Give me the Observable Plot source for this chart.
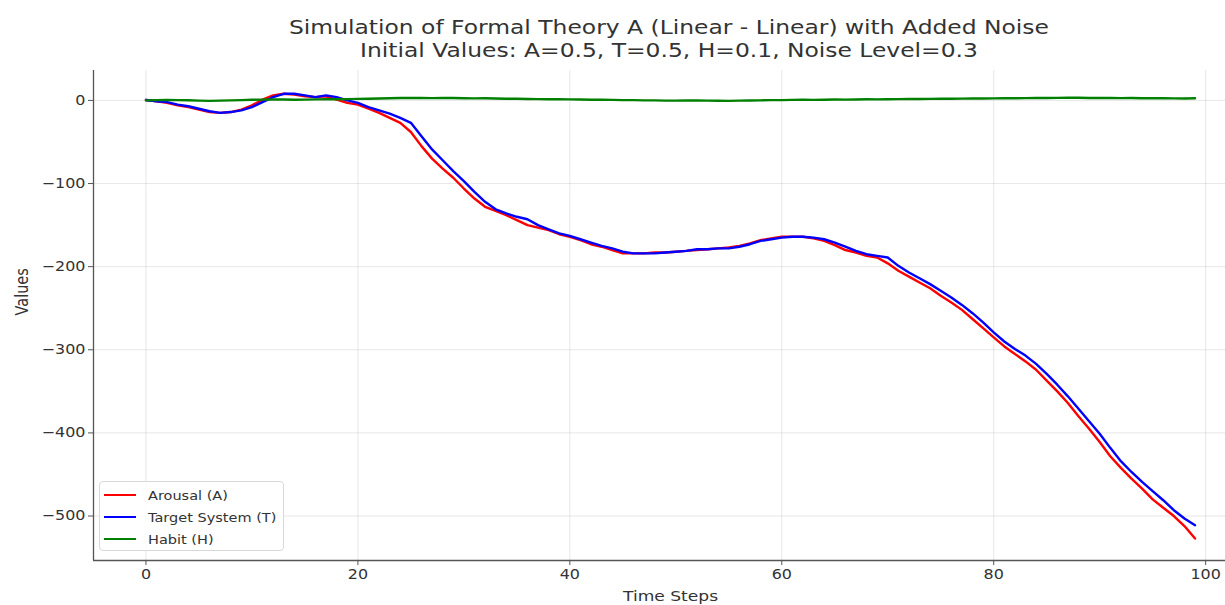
<!DOCTYPE html>
<html>
<head>
<meta charset="utf-8">
<script src="https://cdn.jsdelivr.net/npm/d3@7"></script>
<script src="https://cdn.jsdelivr.net/npm/@observablehq/plot@0.6"></script>
<style>
  html, body { margin: 0; padding: 0; background: #fff; overflow: hidden; }
  #wrap { position: relative; width: 1225px; height: 605px; font-family: "DejaVu Sans", sans-serif; }
  #title { height: 65px; color: #333; font-size: 19.5px; line-height: 22px; }
  #title div { position: absolute; left: 0; width: 1338px; text-align: center; transform: scaleX(1.2); transform-origin: 669px 0; }
  #chart svg { display: block; overflow: hidden; }
  #legend { position: absolute; left: 99px; top: 481px; width: 185px; height: 70px; border: 1px solid #d8d8d8; border-radius: 4px; background: rgba(255,255,255,0.85); box-sizing: border-box; }
  .row { position: absolute; left: 0; height: 20px; display: flex; align-items: center; }
  .sw { position: absolute; left: 4px; width: 32px; height: 0; border-top: 2.6px solid; }
  .lab { position: absolute; left: 48px; font-size: 12.5px; color: #333; white-space: nowrap; transform: scaleX(1.16); transform-origin: 0 0; }
</style>
</head>
<body>
<div id="wrap">
  <div id="title">
    <div style="top:17px">Simulation of Formal Theory A (Linear - Linear) with Added Noise</div>
    <div style="top:40px">Initial Values: A=0.5, T=0.5, H=0.1, Noise Level=0.3</div>
  </div>
  <div id="chart"></div>
  <div id="legend"></div>
</div>
<script>
// ---- data ----
const seriesNames = ["Arousal (A)", "Target System (T)", "Habit (H)"];
const seriesColors = ["#ff0000", "#0000ff", "#008000"];

const arousal = [
  0.5, -1, -3, -6, -8, -11, -14, -15, -14, -11,
  -6, 1, 6, 8, 7, 5, 4, 5, 1, -3,
  -5, -10, -15, -21, -27, -38, -55, -70, -82, -93,
  -106, -118, -128, -133, -138, -144, -150, -153, -156, -161,
  -164, -168, -173, -176, -180, -184, -184, -184, -183, -183,
  -182, -181, -180, -179, -178, -177, -175, -172, -168, -166,
  -164, -164, -164, -166, -169, -174, -180, -183, -187, -189,
  -196, -205, -212, -219, -226, -235, -243, -252, -263, -274,
  -285, -296, -305, -314, -324, -337, -350, -364, -380, -395,
  -411, -428, -442, -455, -467, -480, -490, -500, -512, -527
];
const target = [
  0.5, -1, -2, -5, -7, -10, -13, -15, -14, -12,
  -8, -2, 4, 8, 8, 6, 4, 6, 4, 0,
  -3, -8, -12, -16, -21, -27, -43, -59, -72, -85,
  -97, -110, -122, -131, -136, -140, -143, -150, -155, -160,
  -163, -167, -171, -175, -178, -182, -184, -184, -184, -183,
  -182, -181, -179, -179, -178, -178, -176, -173, -169, -167,
  -165, -164, -164, -165, -167, -171, -176, -181, -185, -187,
  -189, -199, -207, -214, -221, -229, -237, -246, -256, -267,
  -279, -290, -299, -307, -317, -329, -342, -356, -371, -386,
  -401, -418, -434, -447, -459, -470, -481, -493, -503, -511
];
const habit = [
  0.1, 0.3, 0.5, 0.4, 0.2, -0.2, -0.5, -0.3, 0.1, 0.4,
  0.8, 1.0, 1.2, 1.1, 0.9, 1.0, 1.3, 1.5, 1.4, 1.6,
  1.9, 2.1, 2.4, 2.6, 2.9, 3.1, 3.0, 2.8, 2.9, 3.0,
  2.7, 2.5, 2.6, 2.3, 2.1, 2.0, 1.8, 1.6, 1.4, 1.5,
  1.3, 1.1, 0.9, 0.8, 0.6, 0.4, 0.3, 0.1, 0.0, -0.2,
  -0.3, -0.1, 0.0, -0.2, -0.4, -0.5, -0.3, -0.1, 0.1, 0.3,
  0.4, 0.6, 0.8, 0.7, 0.9, 1.1, 1.0, 1.2, 1.4, 1.3,
  1.5, 1.6, 1.8, 1.7, 1.9, 2.1, 2.0, 2.2, 2.4, 2.3,
  2.5, 2.7, 2.6, 2.8, 3.0, 2.9, 3.1, 3.3, 3.2, 3.0,
  3.1, 2.9, 2.8, 3.0, 2.7, 2.8, 2.6, 2.5, 2.4, 2.6
];
const xTicks = [0, 20, 40, 60, 80, 100];
const yTicks = [0, -100, -200, -300, -400, -500];

// ---- build table ----
const allSeries = [arousal, target, habit];
const rows = [];
allSeries.forEach((vals, s) => vals.forEach((v, t) => rows.push({t, v, series: seriesNames[s]})));

const xDom = [-4.95, 103.95];
const yDom = [-553.5, 36];
const fmt = d => d < 0 ? "\u2212" + Math.abs(d) : String(d);

const chart = Plot.plot({
  width: 1225,
  height: 540,
  marginTop: 5,
  marginBottom: 45,
  marginLeft: 93,
  marginRight: -22,
  style: {fontFamily: "DejaVu Sans, sans-serif", fontSize: "13.5px", color: "#333", background: "white"},
  x: {domain: xDom, label: null},
  y: {domain: yDom, label: null},
  color: {domain: seriesNames, range: seriesColors},
  marks: [
    Plot.gridX(xTicks, {stroke: "#b0b0b0", strokeOpacity: 0.3, strokeWidth: 1}),
    Plot.gridY(yTicks, {stroke: "#b0b0b0", strokeOpacity: 0.3, strokeWidth: 1}),
    Plot.axisX(xTicks, {tickSize: 5, tickPadding: 4, stroke: "#555", fill: "#333", tickFormat: fmt, label: null}),
    Plot.axisY(yTicks, {tickSize: 5, tickPadding: 3, stroke: "#555", fill: "#333", tickFormat: fmt, label: null}),
    Plot.ruleX([xDom[0]], {stroke: "#555", strokeWidth: 1.3}),
    Plot.ruleY([yDom[0]], {stroke: "#555", strokeWidth: 1.3}),
    Plot.line(rows, {x: "t", y: "v", z: "series", stroke: "series", strokeWidth: 2.4, curve: "linear"}),
    Plot.text(["Time Steps"], {frameAnchor: "bottom", dy: 40, fontSize: 14.5, fill: "#333"}),
    Plot.text(["Values"], {frameAnchor: "left", dx: -71, rotate: -90, fontSize: 14.5, fill: "#333"})
  ]
});
document.getElementById("chart").appendChild(chart);

// the reference text is horizontally stretched (~1.18x); stretch each label around its anchor
chart.querySelectorAll("text").forEach(t => {
  const tr = t.getAttribute("transform");
  if (tr) {
    t.setAttribute("transform", tr + (tr.includes("rotate") ? " scale(1,1.18)" : " scale(1.18,1)"));
  } else {
    const x = +t.getAttribute("x") || 0;
    t.setAttribute("transform", `translate(${x},0) scale(1.18,1) translate(${-x},0)`);
  }
});

// ---- legend ----
const legend = document.getElementById("legend");
seriesNames.forEach((name, i) => {
  const r = document.createElement("div");
  r.className = "row";
  r.style.top = (3 + i * 22) + "px";
  r.innerHTML = `<span class="sw" style="border-color:${seriesColors[i]}"></span><span class="lab">${name}</span>`;
  legend.appendChild(r);
});
</script>
</body>
</html>
